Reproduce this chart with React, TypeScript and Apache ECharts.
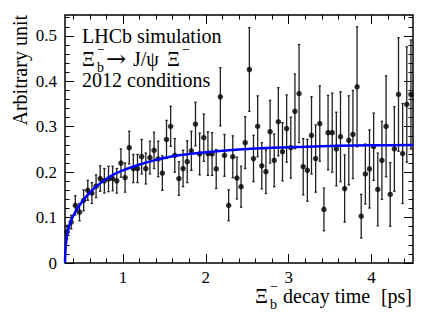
import React, { useEffect, useRef } from "react";
import * as echarts from "echarts";

const times = [
  0.325, 0.375, 0.425, 0.475, 0.525, 0.575, 0.625, 0.675, 0.725, 0.775,
  0.825, 0.875, 0.925, 0.975, 1.025, 1.075, 1.125, 1.175, 1.225, 1.275,
  1.325, 1.375, 1.425, 1.475, 1.525, 1.575, 1.625, 1.675, 1.725, 1.775,
  1.825, 1.875, 1.925, 1.975, 2.025, 2.075, 2.125, 2.175, 2.225, 2.275,
  2.325, 2.375, 2.425, 2.475, 2.525, 2.575, 2.625, 2.675, 2.725, 2.775,
  2.825, 2.875, 2.925, 2.975, 3.025, 3.075, 3.125, 3.175, 3.225, 3.275,
  3.325, 3.375, 3.425, 3.475, 3.525, 3.575, 3.625, 3.675, 3.725, 3.775,
  3.825, 3.875, 3.925, 3.975, 4.025, 4.075, 4.125, 4.175, 4.225, 4.275,
  4.325, 4.375, 4.425, 4.475,
];

const values = [
  0.068, 0.09, 0.127, 0.112, 0.138, 0.16, 0.154, 0.169, 0.186, 0.181,
  0.185, 0.186, 0.181, 0.22, 0.188, 0.254, 0.208, 0.208, 0.234, 0.208,
  0.232, 0.248, 0.229, 0.198, 0.272, 0.301, 0.237, 0.186, 0.208, 0.223,
  0.247, 0.306, 0.24, 0.276, 0.241, 0.24, 0.207, 0.366, 0.237, 0.127,
  0.234, 0.187, 0.168, 0.265, 0.426, 0.23, 0.301, 0.214, 0.201, 0.289,
  0.226, 0.311, 0.245, 0.296, 0.254, 0.334, 0.373, 0.212, 0.204, 0.281,
  0.23, 0.307, 0.118, 0.287, 0.287, 0.251, 0.278, 0.164, 0.27, 0.283,
  0.388, 0.103, 0.196, 0.207, 0.256, 0.162, 0.226, 0.301, 0.151, 0.251,
  0.371, 0.241, 0.349, 0.371,
];

const errors = [
  0.015, 0.015, 0.021, 0.019, 0.023, 0.022, 0.023, 0.025, 0.028, 0.027,
  0.028, 0.027, 0.027, 0.031, 0.032, 0.036, 0.031, 0.031, 0.038, 0.034,
  0.036, 0.04, 0.039, 0.038, 0.042, 0.044, 0.037, 0.037, 0.04, 0.046,
  0.043, 0.048, 0.046, 0.052, 0.048, 0.047, 0.043, 0.064, 0.046, 0.034,
  0.046, 0.046, 0.045, 0.057, 0.092, 0.051, 0.067, 0.051, 0.048, 0.069,
  0.058, 0.075, 0.064, 0.074, 0.067, 0.082, 0.108, 0.062, 0.068, 0.085,
  0.074, 0.083, 0.047, 0.082, 0.087, 0.081, 0.099, 0.074, 0.098, 0.097,
  0.132, 0.048, 0.066, 0.086, 0.074, 0.08, 0.086, 0.111, 0.07, 0.093,
  0.125, 0.11, 0.127, 0.12,
];

const fitTimes = [
  0.3, 0.303, 0.307, 0.312, 0.32, 0.33, 0.35, 0.375, 0.4, 0.45, 0.5, 0.55,
  0.6, 0.7, 0.8, 0.9, 1.0, 1.2, 1.4, 1.6, 1.8, 2.0, 2.4, 2.8, 3.2, 3.6, 4.0,
  4.5,
];
const fitValues = [
  0, 0.018, 0.03, 0.042, 0.055, 0.066, 0.081, 0.094, 0.104, 0.12, 0.133,
  0.145, 0.155, 0.172, 0.185, 0.196, 0.204, 0.217, 0.227, 0.235, 0.24, 0.244,
  0.25, 0.254, 0.256, 0.258, 0.259, 0.26,
];

const xMajorTicks = [1, 2, 3, 4];
const xMinorTicks = [
  0.4, 0.6, 0.8, 1.2, 1.4, 1.6, 1.8, 2.2, 2.4, 2.6, 2.8, 3.2, 3.4, 3.6, 3.8,
  4.2, 4.4,
];
const yMajorTicks = [0, 0.1, 0.2, 0.3, 0.4, 0.5];
const yMinorTicks = [
  0.02, 0.04, 0.06, 0.08, 0.12, 0.14, 0.16, 0.18, 0.22, 0.24, 0.26, 0.28,
  0.32, 0.34, 0.36, 0.38, 0.42, 0.44, 0.46, 0.48, 0.52, 0.54,
];

const X_MIN = 0.3;
const X_MAX = 4.5;
const Y_MIN = 0;
const Y_MAX = 0.546;

const FONT = "Liberation Serif";

function makeX(position: string, ticks: number[], len: number, labels: boolean) {
  return {
    type: "value",
    min: X_MIN,
    max: X_MAX,
    position,
    axisLine: { show: false, onZero: false },
    splitLine: { show: false },
    axisTick: {
      show: true,
      inside: true,
      length: len,
      customValues: ticks,
      lineStyle: { color: "#000", width: 1 },
    },
    axisLabel: labels
      ? {
          show: true,
          customValues: ticks,
          fontSize: 17,
          fontFamily: FONT,
          color: "#000",
          margin: 6,
        }
      : { show: false },
  };
}

function makeY(position: string, ticks: number[], len: number, labels: boolean) {
  return {
    type: "value",
    min: Y_MIN,
    max: Y_MAX,
    position,
    axisLine: { show: false, onZero: false },
    splitLine: { show: false },
    axisTick: {
      show: true,
      inside: true,
      length: len,
      customValues: ticks,
      lineStyle: { color: "#000", width: 1 },
    },
    axisLabel: labels
      ? {
          show: true,
          customValues: ticks,
          fontSize: 17,
          fontFamily: FONT,
          color: "#000",
          margin: 8,
        }
      : { show: false },
  };
}

function txt(text: string, x: number, y: number, size = 20, extra: any = {}) {
  return {
    type: "text",
    x,
    y,
    silent: true,
    style: {
      text,
      fontSize: size,
      fontFamily: FONT,
      fill: "#000",
      align: "left",
      verticalAlign: "middle",
      ...extra,
    },
  };
}

export default function App() {
  const ref = useRef<HTMLDivElement>(null);
  useEffect(() => {
    const chart = echarts.init(ref.current!, null, { renderer: "svg" });
    const points = times.map((t, i) => [t, values[i]]);
    const bars = times.map((t, i) => [t, values[i], errors[i]]);
    const fit = fitTimes.map((t, i) => [t, fitValues[i]]);
    chart.setOption({
      animation: false,
      backgroundColor: "#fff",
      grid: {
        left: 65,
        right: 23,
        top: 15,
        bottom: 50,
        show: true,
        borderColor: "#000",
        borderWidth: 1.5,
        backgroundColor: "transparent",
      },
      xAxis: [
        makeX("bottom", xMajorTicks, 9, true),
        makeX("bottom", xMinorTicks, 4.5, false),
        makeX("top", xMajorTicks, 9, false),
        makeX("top", xMinorTicks, 4.5, false),
      ],
      yAxis: [
        makeY("left", yMajorTicks, 9, true),
        makeY("left", yMinorTicks, 4.5, false),
        makeY("right", yMajorTicks, 9, false),
        makeY("right", yMinorTicks, 4.5, false),
      ],
      series: [
        {
          type: "custom",
          xAxisIndex: 0,
          yAxisIndex: 0,
          clip: true,
          data: bars,
          renderItem: (params: any, api: any) => {
            const x = api.value(0);
            const y = api.value(1);
            const e = api.value(2);
            const top = api.coord([x, y + e]);
            const bot = api.coord([x, y - e]);
            const st = { stroke: "#222", lineWidth: 1.3 };
            return {
              type: "group",
              children: [
                { type: "line", shape: { x1: top[0], y1: top[1], x2: bot[0], y2: bot[1] }, style: st },
                { type: "line", shape: { x1: top[0] - 1.2, y1: top[1], x2: top[0] + 1.2, y2: top[1] }, style: st },
                { type: "line", shape: { x1: bot[0] - 1.2, y1: bot[1], x2: bot[0] + 1.2, y2: bot[1] }, style: st },
              ],
            };
          },
        },
        {
          type: "scatter",
          xAxisIndex: 0,
          yAxisIndex: 0,
          data: points,
          symbol: "circle",
          symbolSize: 5.5,
          itemStyle: { color: "#000" },
        },
        {
          type: "line",
          xAxisIndex: 0,
          yAxisIndex: 0,
          data: fit,
          smooth: 0.2,
          showSymbol: false,
          lineStyle: { color: "#0000ff", width: 2.5 },
          z: 5,
        },
      ],
      graphic: [
        txt("LHCb simulation", 82, 36),
        txt("Ξ", 82, 59),
        txt("b", 97, 67, 14),
        txt("−", 97, 49, 14),
        txt("→", 106, 59, 24, { fontFamily: "DejaVu Serif" }),
        txt("J/ψ", 133, 59),
        txt("Ξ", 167, 59),
        txt("−", 182, 49, 14),
        txt("2012 conditions", 82, 80),
        txt("Ξ", 255, 296),
        txt("b", 270, 304, 14),
        txt("−", 270, 286, 14),
        txt("decay time", 283, 296),
        txt("[ps]", 412, 296, 20, { align: "right" }),
        {
          type: "text",
          x: 20,
          y: 15,
          rotation: Math.PI / 2,
          silent: true,
          style: {
            text: "Arbitrary unit",
            fontSize: 20,
            fontFamily: FONT,
            fill: "#000",
            align: "right",
            verticalAlign: "middle",
          },
        },
      ],
    });
    return () => chart.dispose();
  }, []);
  return (
    <div
      ref={ref}
      style={{ position: "fixed", left: 0, top: 0, width: 436, height: 313, background: "#fff" }}
    />
  );
}
